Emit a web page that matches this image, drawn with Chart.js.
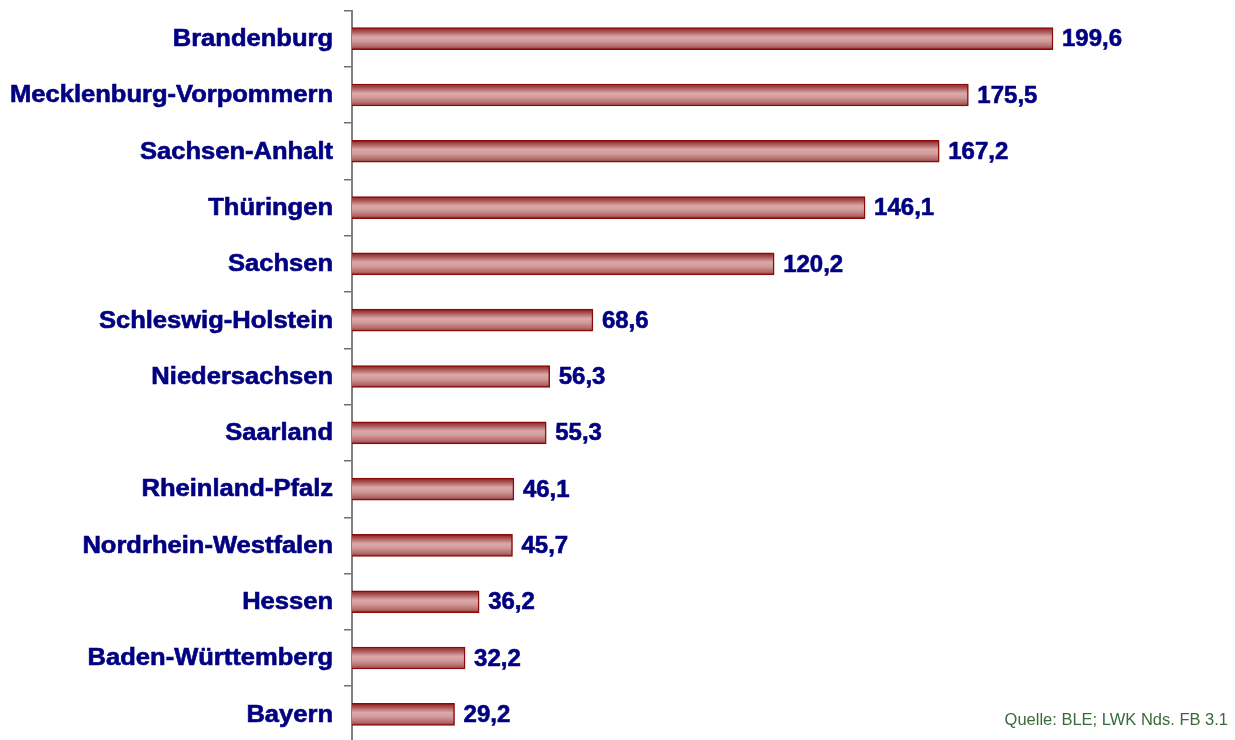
<!DOCTYPE html>
<html>
<head>
<meta charset="utf-8">
<script src="https://cdn.jsdelivr.net/npm/chart.js@4/dist/chart.umd.min.js"></script>
<style>
html,body{margin:0;padding:0;background:#fff;overflow:hidden;width:1235px;height:740px;}
canvas{display:block;}
</style>
</head>
<body>
<canvas id="c" width="1235" height="760"></canvas>
<script>
const categories = ["Brandenburg","Mecklenburg-Vorpommern","Sachsen-Anhalt","Thüringen","Sachsen","Schleswig-Holstein","Niedersachsen","Saarland","Rheinland-Pfalz","Nordrhein-Westfalen","Hessen","Baden-Württemberg","Bayern"];
const values = [199.6,175.5,167.2,146.1,120.2,68.6,56.3,55.3,46.1,45.7,36.2,32.2,29.2];
const sourceText = "Quelle: BLE; LWK Nds. FB 3.1";

const NAVY = '#000080';

function barGradient(ctx){
  const chart = ctx.chart;
  const ys = chart.scales && chart.scales.y;
  if (!ys || ctx.type !== 'data') return '#c88c8c';
  const yc = ys.getPixelForValue(ctx.dataIndex);
  if (!isFinite(yc)) return '#c88c8c';
  const g = chart.ctx.createLinearGradient(0, yc - 11, 0, yc + 11);
  g.addColorStop(0, '#8a2222');
  g.addColorStop(0.15, '#a44c4c');
  g.addColorStop(0.42, '#dba8a8');
  g.addColorStop(0.6, '#d39c9c');
  g.addColorStop(0.85, '#b46c6c');
  g.addColorStop(1, '#953636');
  return g;
}

const labelPlugin = {
  id: 'labels',
  afterDraw(chart){
    const ctx = chart.ctx;
    const ys = chart.scales.y;
    const xs = chart.scales.x;
    ctx.save();
    ctx.fillStyle = NAVY;
    ctx.strokeStyle = NAVY;
    ctx.lineWidth = 0.6;
    ctx.textBaseline = 'middle';
    ctx.font = 'bold 23px "Liberation Sans", Arial, sans-serif';
    categories.forEach((c, i) => {
      const y = ys.getPixelForTick(i);
      ctx.save();
      ctx.translate(333, y + 1);
      ctx.scale(1.11, 1);
      ctx.textAlign = 'right';
      ctx.fillText(c, 0, 0);
      ctx.strokeText(c, 0, 0);
      ctx.restore();
    });
    ctx.font = 'bold 24px "Liberation Sans", Arial, sans-serif';
    ctx.textAlign = 'left';
    values.forEach((v, i) => {
      const y = ys.getPixelForValue(i);
      const x = xs.getPixelForValue(v);
      const t = v.toFixed(1).replace('.', ',');
      ctx.fillText(t, x + 9, y + 1);
      ctx.strokeText(t, x + 9, y + 1);
    });
    ctx.fillStyle = '#3a6a3a';
    ctx.font = '16.5px "Liberation Sans", Arial, sans-serif';
    ctx.textAlign = 'right';
    ctx.fillText(sourceText, 1228, 720);
    ctx.restore();
  }
};

new Chart(document.getElementById('c'), {
  type: 'bar',
  data: {
    labels: categories,
    datasets: [{
      data: values,
      backgroundColor: barGradient,
      borderColor: '#8b0a0a',
      borderWidth: 1.5,
      borderSkipped: 'left',
      barThickness: 22
    }]
  },
  options: {
    indexAxis: 'y',
    responsive: false,
    animation: false,
    devicePixelRatio: 1,
    layout: { padding: { top: 10.5, bottom: 17.5, right: 5, left: 0 } },
    plugins: { legend: { display: false }, tooltip: { enabled: false } },
    scales: {
      x: { min: 0, max: 250, display: false },
      y: {
        afterFit(s){ s.width = 352; },
        ticks: { display: false },
        grid: { offset: true, drawOnChartArea: false, drawTicks: true, tickLength: 8, color: '#707070', lineWidth: 1.5 },
        border: { display: true, color: '#808080', width: 2 }
      }
    }
  },
  plugins: [labelPlugin]
});
</script>
</body>
</html>
